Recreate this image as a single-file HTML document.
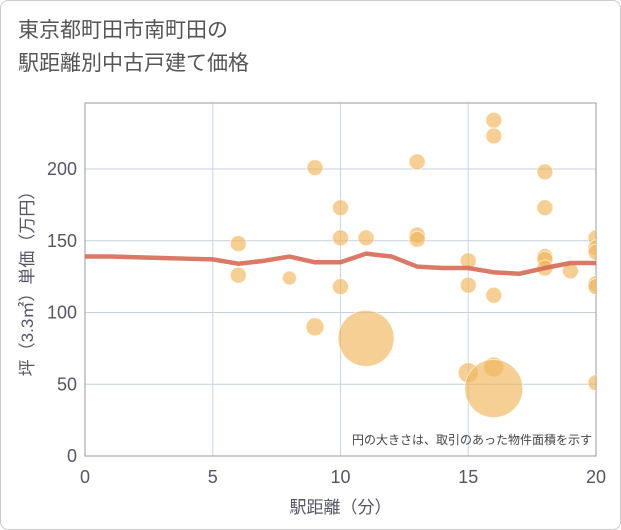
<!DOCTYPE html>
<html><head><meta charset="utf-8"><style>
body{margin:0;background:#fff;font-family:"Liberation Sans","Noto Sans CJK JP",sans-serif;}
#wrap{position:relative;width:619px;height:528px;border:1px solid #ccc;border-radius:8px;overflow:hidden;}
#title{position:absolute;left:17px;top:13px;font-size:21px;line-height:33px;color:#555;}
</style></head><body>
<div id="wrap">
<div id="title">東京都町田市南町田の<br>駅距離別中古戸建て価格</div>
<svg id="chart" width="621" height="530" style="position:absolute;left:-1px;top:-1px"></svg>
</div>
<script>
const xTicks=[0,5,10,15,20];
const yTicks=[0,50,100,150,200];
const bubbleX=[6,6,8,9,9,10,10,10,11,11,13,13,13,15,15,15,16,16,16,16,16,18,18,18,18,18,19,20,20,20,20,20,20];
const bubbleY=[148,126,124,201,90,173,152,118,152,82,205,154,151,136,119,58,234,223,112,62,47,198,173,139,137,131,129,152,145,142,120,118,51];
const bubbleR=[8,8,7,8,9,8,8,8,8,28,8,8,8,8,8,10,8,8,8,10,29,8,8,8,8,8,8,8,8,8,8,8,8];
const lineX=[0,1,2,3,4,5,6,7,8,9,10,11,12,13,14,15,16,17,18,19,20];
const lineY=[139,139,138.5,138,137.5,137,134,136,139,135,135,141,139,132,131,131,128,127,131,134.5,134.5];
const NS="http://www.w3.org/2000/svg";
const svg=document.getElementById('chart');
const L=85,R=596,T=103,B=456;
const sx=v=>L+(v/20)*(R-L);
const sy=v=>B-v*1.435;
function mk(t,a,p){const e=document.createElementNS(NS,t);for(const k in a)e.setAttribute(k,a[k]);(p||svg).appendChild(e);return e;}
const clip=mk('clipPath',{id:'pc'});mk('rect',{x:L,y:T,width:R-L,height:B-T},clip);
xTicks.forEach(t=>{if(t>0&&t<20){const g=mk('line',{x1:sx(t),x2:sx(t),y1:T,y2:B,stroke:'#c5d5e5','stroke-width':1});

}
const tx=mk('text',{x:sx(t),y:B+27,'text-anchor':'middle','font-size':18,fill:'#556'});tx.textContent=t;

});
yTicks.forEach(t=>{if(t>0){const g=mk('line',{x1:L,x2:R,y1:sy(t),y2:sy(t),stroke:'#c5d0dc','stroke-width':1});

}
const tx=mk('text',{x:L-8,y:sy(t)+6,'text-anchor':'end','font-size':18,fill:'#556'});tx.textContent=t;

});
const fr=mk('rect',{x:L,y:T,width:R-L,height:B-T,fill:'none',stroke:'#999','stroke-width':1});


const bg=mk('g',{'clip-path':'url(#pc)'});
bubbleX.forEach((x,i)=>{const c=mk('circle',{cx:sx(x),cy:sy(bubbleY[i]),r:bubbleR[i],fill:'#f0b55a','fill-opacity':0.65,stroke:'#fff','stroke-width':1,'stroke-opacity':0.6},bg);

});
const pl=mk('polyline',{points:lineX.map((x,i)=>sx(x)+','+sy(lineY[i])).join(' '),fill:'none',stroke:'#d66a55','stroke-width':4.5,'stroke-opacity':0.9,'stroke-linejoin':'round'},bg);


const note=mk('text',{x:R-4,y:B-12,'text-anchor':'end','font-size':12,fill:'#444'});note.textContent='円の大きさは、取引のあった物件面積を示す';


const xt=mk('text',{x:(L+R)/2,y:513,'text-anchor':'middle','font-size':17,fill:'#556'});xt.textContent='駅距離（分）';


const yt=mk('text',{x:0,y:0,'text-anchor':'middle','font-size':17,fill:'#556',transform:'translate(33,'+((T+B)/2)+') rotate(-90)'});yt.textContent='坪（3.3㎡）単価（万円）';


</script>
</body></html>
